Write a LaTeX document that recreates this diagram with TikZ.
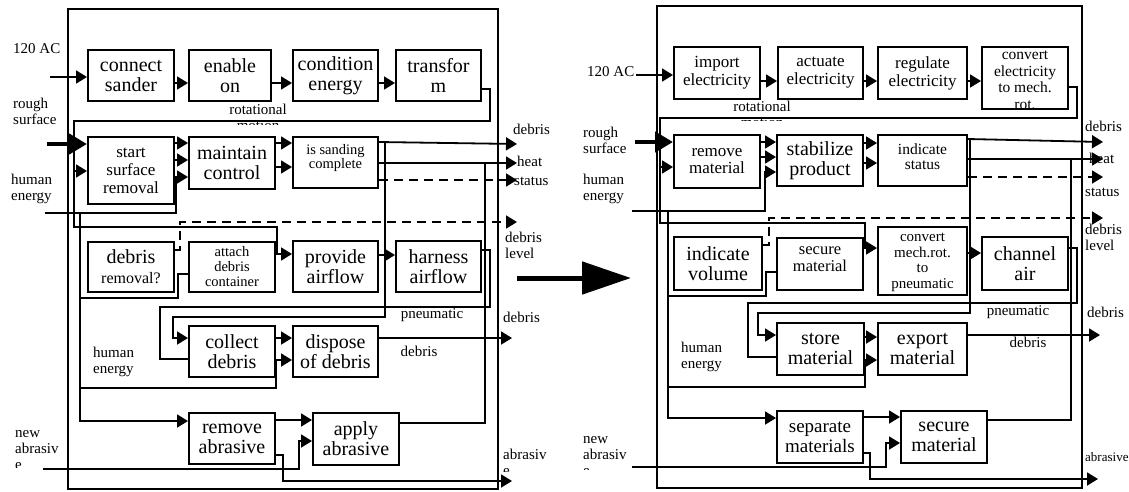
\documentclass[tikz,border=0pt]{standalone}
\usepackage{fontspec}
\setmainfont{Liberation Serif}
\usetikzlibrary{arrows.meta,fit}
\newcommand\FBig{\fontsize{20}{20}\selectfont}
\newcommand\FEl{\fontsize{17}{18}\selectfont}
\newcommand\FMid{\fontsize{16.5}{17}\selectfont}
\newcommand\FLab{\fontsize{15}{16}\selectfont}
\newcommand\Bx[4]{\node[box,fit={#2}] (#1) {}; \node[bt,#3] (#1t) at (#1.center) {#4};}
\begin{document}
\begin{tikzpicture}[x=1pt,y=-1pt,
  box/.style={draw,line width=2pt,inner sep=0pt},
  bt/.style={inner sep=0pt,align=center,font=\FBig},
  frm/.style={draw,line width=2pt,inner sep=0pt},
  ln/.style={line width=1.8pt},
  arr/.style={ln,-{Triangle[length=11pt,width=13pt]}},
  dsh/.style={ln,dash pattern=on 9pt off 6pt},
  darr/.style={dsh,-{Triangle[length=11pt,width=13pt]}},
  thk/.style={line width=4.5pt,-{Triangle[length=18pt,width=20pt]}},
  lab/.style={inner sep=0pt,align=left,font=\FLab}
]
\useasboundingbox[fill=white] (0,0) rectangle (1129,491);

% ================= LEFT PANEL =================
\node[frm,fit={(68,9) (498,489)}] (FL) {};
\Bx{cs}{(88,50) (174,101)}{}{connect\\sander}
\Bx{eo}{(189,50) (271,101)}{}{enable\\on}
\Bx{ce}{(293,50) (378,101)}{}{condition\\energy}
\Bx{tf}{(396,50) (481,101)}{}{transfor\\m}
\Bx{ssr}{(88,137) (174,204)}{font=\fontsize{17}{18}\selectfont}{start\\surface\\removal}
\Bx{mc}{(189,137) (275,189)}{}{maintain\\control}
\Bx{isc}{(293,137) (378,188)}{font=\fontsize{14.5}{14}\selectfont,yshift=4pt}{is sanding\\complete}
\Bx{dr}{(88,242) (174,292)}{}{debris\\\fontsize{16}{17}\selectfont removal?}
\Bx{adc}{(189,242) (275,292)}{font=\fontsize{14.5}{15}\selectfont}{attach\\debris\\container}
\Bx{pa}{(293,241) (378,292)}{}{provide\\airflow}
\Bx{ha}{(396,241) (481,292)}{}{harness\\airflow}
\Bx{cd}{(189,326) (275,377)}{}{collect\\debris}
\Bx{dd}{(293,326) (378,377)}{}{dispose\\of debris}
\Bx{ra}{(189,413) (275,464)}{}{remove\\abrasive}
\Bx{aa}{(313,413) (399,465)}{}{apply\\abrasive}

\coordinate (acL) at (50,77);
\draw[arr] (acL) -- (cs.west |- 0,77);
\draw[arr] (cs.east |- 0,83) -- (eo.west |- 0,83);
\draw[arr] (eo.east |- 0,83) -- (ce.west |- 0,83);
\draw[arr] (ce.east |- 0,83) -- (tf.west |- 0,83);
\draw[arr] (tf.east |- 0,89) -- (490,89) -- (490,121) -- (74,121) -- (74,227) -- (277,227) -- (277,254) -- (pa.west |- 0,254);
\draw[arr] (74,171) -- (ssr.west |- 0,171);
\coordinate (rsL) at (47,144);
\draw[thk] (rsL) -- (ssr.west |- 0,144);
\coordinate (heL) at (45,213);
\draw[arr] (heL) -- (176,213) -- (176,177) -- (mc.west |- 0,177);
\draw[arr] (80,213) -- (80,421) -- (ra.west |- 0,421);
\draw[ln] (80,298) -- (178,298) -- (178,274) -- (adc.west |- 0,274);
\draw[arr] (80,388) -- (276,388) -- (276,360) -- (dd.west |- 0,360);
\draw[arr] (ssr.east |- 0,143) -- (mc.west |- 0,143);
\draw[arr] (ssr.east |- 0,160) -- (mc.west |- 0,160);
\draw[arr] (mc.east |- 0,143) -- (isc.west |- 0,143);
\draw[arr] (mc.east |- 0,167) -- (isc.west |- 0,167);
\coordinate (dbL) at (517,144);
\draw[arr] (isc.east |- 0,142) -- (dbL);
\draw[arr] (385,142) -- (385,317) -- (173,317) -- (173,338) -- (cd.west |- 0,338);
\coordinate (htL) at (517,163);
\draw[arr] (isc.east |- 0,163) -- (htL);
\draw[ln] (aa.east |- 0,423) -- (485,423) -- (485,163);
\coordinate (stL) at (517,180);
\draw[darr] (isc.east |- 0,180) -- (stL);
\coordinate (dlL) at (517,222);
\draw[darr] (dr.east |- 0,250) -- (180,250) -- (180,222) -- (dlL);
\draw[arr] (pa.east |- 0,255) -- (ha.west |- 0,255);
\draw[ln] (ha.east |- 0,250) -- (490,250) -- (490,307) -- (160,307) -- (160,359) -- (cd.west |- 0,359);
\draw[arr] (cd.east |- 0,338) -- (dd.west |- 0,338);
\coordinate (ddL) at (512,338);
\draw[arr] (dd.east |- 0,338) -- (ddL);
\draw[arr] (ra.east |- 0,420) -- (aa.west |- 0,420);
\coordinate (naL) at (43,469);
\draw[arr] (naL) -- (299,469) -- (299,441) -- (aa.west |- 0,441);
\coordinate (abL) at (512,481);
\draw[arr] (ra.east |- 0,455) -- (283,455) -- (283,481) -- (abL);

\node[lab,anchor=west] (l120L) at (13,49) {120 AC};
\node[lab,anchor=west] (lrsL) at (13,111) {rough\\surface};
\node[lab,anchor=west] (lheL) at (11,189) {human\\energy};
\begin{scope}
\clip (200,95) rectangle (320,124);
\node[lab,align=center,anchor=north] (lrotL) at (258,104) {rotational\\motion};
\end{scope}
\node[lab,anchor=west] (ldbL) at (513,129) {debris};
\node[lab,anchor=west] (lhtL) at (517,161) {heat};
\node[lab,anchor=west] (lstL) at (514,181) {status};
\node[lab,anchor=west] (ldlL) at (505,245) {debris\\level};
\node[lab] (lpnL) at (432,315) {pneumatic};
\node[lab,anchor=west] (ldb2L) at (503,317) {debris};
\node[lab] (ldb3L) at (419,351) {debris};
\node[lab,anchor=west] (lhe2L) at (93,362) {human\\energy};
\begin{scope}
\clip (0,420) rectangle (66,467);
\node[lab,anchor=north west] (lnaL) at (15,430) {new\\abrasiv\\e};
\end{scope}
\begin{scope}
\clip (500,440) rectangle (560,471);
\node[lab,anchor=north west] (labL) at (503,449) {abrasiv\\e};
\end{scope}

% ================= BIG ARROW =================
\coordinate (bgA) at (517,278);
\coordinate (bgB) at (631,278);
\draw[line width=5pt,-{Triangle[length=49pt,width=32pt]}] (bgA) -- (bgB);

% ================= RIGHT PANEL =================
\node[frm,fit={(657,6) (1082,488)}] (FR) {};
\Bx{ie}{(674,47) (760,99)}{font=\FEl}{import\\electricity}
\Bx{ae}{(778,47) (863,99)}{font=\FEl}{actuate\\electricity}
\Bx{re}{(878,47) (967,99)}{font=\FEl}{regulate\\electricity}
\node[box,fit={(982,47) (1068,109)}] (cem) {};
\begin{scope}
\clip (983,48) rectangle (1067,108);
\node[inner sep=0pt,align=center,anchor=north,font=\fontsize{15.5}{16.5}\selectfont] (cemt) at (1025,51) {convert\\electricity\\to mech.\\rot.};
\end{scope}
\Bx{rm}{(674,135) (760,188)}{font=\fontsize{17}{17}\selectfont}{remove\\material}
\Bx{sp}{(777,135) (863,186)}{}{stabilize\\product}
\Bx{is}{(878,135) (967,186)}{font=\fontsize{15.5}{15.5}\selectfont,yshift=4pt}{indicate\\status}
\Bx{iv}{(674,237) (762,290)}{}{indicate\\volume}
\Bx{sm}{(777,238) (863,290)}{font=\FMid,yshift=5pt}{secure\\material}
\node[box,fit={(878,227) (967,295)}] (cmp) {};
\begin{scope}
\clip (879,228) rectangle (966,294);
\node[inner sep=0pt,align=center,anchor=north,font=\fontsize{15}{15.5}\selectfont] (cmpt) at (922.5,233) {convert\\mech.rot.\\to\\pneumatic};
\end{scope}
\Bx{ca}{(982,237) (1068,290)}{}{channel\\air}
\Bx{stm}{(777,323) (864,375)}{}{store\\material}
\Bx{em}{(878,323) (967,375)}{}{export\\material}
\Bx{sms}{(777,411) (863,463)}{font=\fontsize{19}{20}\selectfont}{separate\\materials}
\Bx{sm2}{(901,411) (987,463)}{}{secure\\material}

\coordinate (acR) at (636,75);
\draw[arr] (acR) -- (ie.west |- 0,75);
\draw[arr] (ie.east |- 0,81) -- (ae.west |- 0,81);
\draw[arr] (ae.east |- 0,81) -- (re.west |- 0,81);
\draw[arr] (re.east |- 0,81) -- (cem.west |- 0,81);
\draw[arr] (cem.east |- 0,87) -- (1077,87) -- (1077,118) -- (660,118) -- (660,223) -- (865,223) -- (865,248) -- (cmp.west |- 0,248);
\draw[arr] (660,167) -- (rm.west |- 0,167);
\coordinate (rsR) at (635,142);
\draw[thk] (rsR) -- (rm.west |- 0,142);
\coordinate (heR) at (632,211);
\draw[arr] (heR) -- (765,211) -- (765,172) -- (sp.west |- 0,172);
\draw[arr] (668,211) -- (668,418) -- (sms.west |- 0,418);
\draw[ln] (668,296) -- (766,296) -- (766,272) -- (sm.west |- 0,272);
\draw[arr] (668,387) -- (865,387) -- (865,360) -- (em.west |- 0,360);
\draw[arr] (rm.east |- 0,142) -- (sp.west |- 0,142);
\draw[arr] (rm.east |- 0,157) -- (sp.west |- 0,157);
\draw[arr] (sp.east |- 0,143) -- (is.west |- 0,143);
\draw[arr] (sp.east |- 0,163) -- (is.west |- 0,163);
\coordinate (dbR) at (1103,142);
\draw[arr] (is.east |- 0,139) -- (dbR);
\draw[arr] (970,139) -- (970,313) -- (758,313) -- (758,335) -- (stm.west |- 0,335);
\coordinate (htR) at (1103,159);
\draw[arr] (is.east |- 0,159) -- (htR);
\draw[ln] (sm2.east |- 0,420) -- (1071,420) -- (1071,159);
\coordinate (stR) at (1103,177);
\draw[darr] (is.east |- 0,177) -- (stR);
\coordinate (dlR) at (1103,218);
\draw[darr] (iv.east |- 0,245) -- (769,245) -- (769,218) -- (dlR);
\draw[arr] (cmp.east |- 0,253) -- (ca.west |- 0,253);
\draw[ln] (ca.east |- 0,248) -- (1077,248) -- (1077,303) -- (748,303) -- (748,357) -- (stm.west |- 0,357);
\draw[arr] (stm.east |- 0,337) -- (em.west |- 0,337);
\coordinate (emR) at (1100,335);
\draw[arr] (em.east |- 0,335) -- (emR);
\draw[arr] (sms.east |- 0,417) -- (sm2.west |- 0,417);
\coordinate (naR) at (632,467);
\draw[arr] (naR) -- (886,467) -- (886,443) -- (sm2.west |- 0,443);
\coordinate (abR) at (1098,479);
\draw[arr] (sms.east |- 0,453) -- (870,453) -- (870,479) -- (abR);

\node[lab,anchor=west] (l120R) at (587,72) {120 AC};
\node[lab,anchor=west] (lrsR) at (583,140) {rough\\surface};
\node[lab,anchor=west] (lheR) at (583,189) {human\\energy};
\begin{scope}
\clip (700,92) rectangle (830,120);
\node[lab,align=center,anchor=north] (lrotR) at (762,101) {rotational\\motion};
\end{scope}
\node[lab,anchor=west] (ldbR) at (1085,126) {debris};
\node[lab,anchor=west] (lhtR) at (1089,158) {heat};
\node[lab,anchor=west] (lstR) at (1085,192) {status};
\node[lab,anchor=west] (ldlR) at (1085,237) {debris\\level};
\node[lab] (lpnR) at (1018,312) {pneumatic};
\node[lab,anchor=west] (ldb2R) at (1087,312) {debris};
\node[lab] (ldb3R) at (1028,342) {debris};
\node[lab,anchor=west] (lhe2R) at (681,357) {human\\energy};
\begin{scope}
\clip (575,420) rectangle (640,469);
\node[lab,anchor=north west] (lnaR) at (583,436) {new\\abrasiv\\e};
\end{scope}
\node[lab,anchor=west,font=\fontsize{13}{14}\selectfont] (labR) at (1085,457) {abrasive};
\end{tikzpicture}
\end{document}
